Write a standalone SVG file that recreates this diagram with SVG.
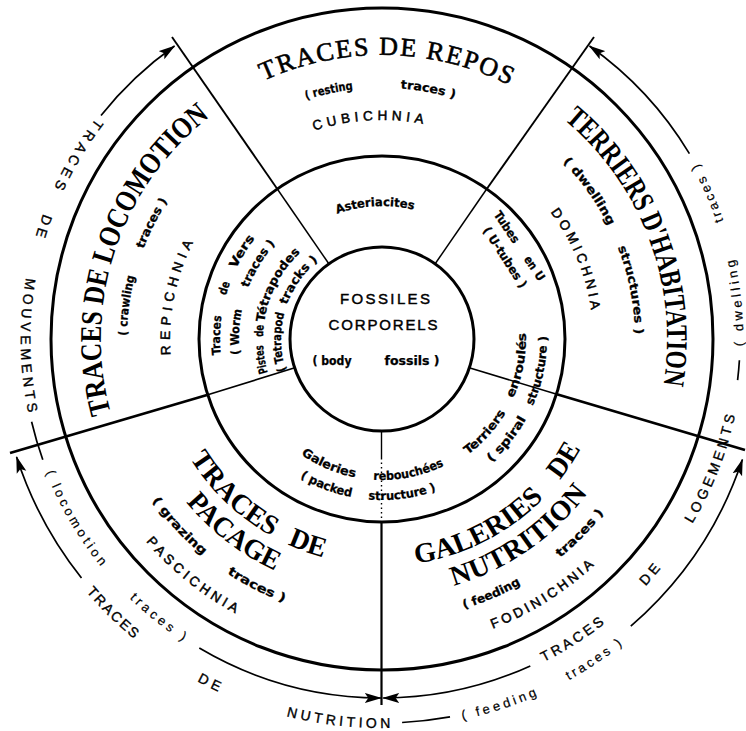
<svg xmlns="http://www.w3.org/2000/svg" width="746" height="731" viewBox="0 0 746 731">
<defs>
<style>
.ring{fill:none;stroke:#000;stroke-width:3}
.dv{stroke:#000;fill:none}
.ar{fill:none;stroke:#000;stroke-width:1.7;marker-end:url(#ah)}
.ln{fill:none;stroke:#000;stroke-width:1.7}
text{fill:#000;text-anchor:middle}
.big{font-family:"Liberation Serif","Times New Roman",serif;font-weight:bold;font-size:30px}
.big28{font-family:"Liberation Serif","Times New Roman",serif;font-weight:bold;font-size:28px}
.rep{font-family:"Liberation Serif","Times New Roman",serif;font-size:26px;stroke:#000;stroke-width:0.6}
.sm{font-family:"DejaVu Sans Condensed","DejaVu Sans",sans-serif;font-weight:bold;font-size:12px;stroke:#000;stroke-width:0.25}
.ich{font-family:"Liberation Sans",Arial,sans-serif;font-size:13.5px;letter-spacing:5px;stroke:#000;stroke-width:0.5}
.trk{font-family:"Liberation Sans",Arial,sans-serif;font-size:14px;letter-spacing:4px;stroke:#000;stroke-width:0.35}
.trl{font-family:"Liberation Sans",Arial,sans-serif;font-size:13px;letter-spacing:3.5px;stroke:#000;stroke-width:0.2}
.ctr{font-family:"Liberation Sans",Arial,sans-serif;font-size:15px;stroke:#000;stroke-width:0.45}
</style>
<marker id="ah" viewBox="0 0 17 11" refX="16" refY="5.5" markerWidth="17" markerHeight="11" markerUnits="userSpaceOnUse" orient="auto"><path d="M0,0.5 L17,5.5 L0,10.5 L3.5,5.5 z" fill="#000"/></marker>
<path id="p_repos" d="M138.6,192.7 A284,284 0 0 1 630.4,201.3"/>
<path id="p_rest" d="M188.3,179.3 A251,251 0 0 1 572.9,176.0"/>
<path id="p_cubi" d="M207.1,207.2 A219,219 0 0 1 542.2,189.6"/>
<path id="p_aster" d="M275.8,259.0 A133,133 0 0 1 479.3,248.3"/>
<path id="p_terr" d="M429.0,57.9 A285,285 0 0 1 601.9,520.3"/>
<path id="p_dwst" d="M458.1,97.7 A253,253 0 0 1 606.4,455.8"/>
<path id="p_domi" d="M447.9,138.6 A211,211 0 0 1 568.0,438.7"/>
<path id="p_terren" d="M418.1,478.4 A144,144 0 0 0 513.0,279.3"/>
<path id="p_spir" d="M427.5,497.6 A165,165 0 0 0 530.3,266.7"/>
<path id="p_gal" d="M267.5,421.3 A141,141 0 0 0 482.9,437.5"/>
<path id="p_pack" d="M249.3,430.2 A161,161 0 0 0 494.9,453.8"/>
<path id="p_tv" d="M247.1,428.7 A162,162 0 0 1 317.1,190.6"/>
<path id="p_wt" d="M260.7,414.8 A143,143 0 0 1 328.4,206.4"/>
<path id="p_pt" d="M284.5,407.3 A119,119 0 0 1 331.7,231.2"/>
<path id="p_tt" d="M297.8,394.8 A101,101 0 0 1 341.7,246.4"/>
<path id="p_loco" d="M171.5,525.2 A281,281 0 0 1 326.0,63.6"/>
<path id="p_crawl" d="M168.1,477.9 A255,255 0 0 1 282.4,104.3"/>
<path id="p_repi" d="M214.9,469.5 A212,212 0 0 1 282.5,151.8"/>
<path id="p_trde" d="M156.3,350.8 A226,226 0 0 0 432.8,559.2"/>
<path id="p_pac" d="M127.2,350.1 A255,255 0 0 0 437.2,588.0"/>
<path id="p_graz" d="M101.3,350.8 A281,281 0 0 0 442.3,613.4"/>
<path id="p_pasc" d="M73.1,375.3 A311,311 0 0 0 418.3,647.9"/>
<path id="p_gade" d="M323.3,558.3 A227,227 0 0 0 608.1,358.8"/>
<path id="p_nutr" d="M314.2,586.9 A257,257 0 0 0 637.9,362.7"/>
<path id="p_feed" d="M306.6,610.7 A282,282 0 0 0 662.7,366.0"/>
<path id="p_fodi" d="M314.9,641.7 A310,310 0 0 0 684.7,406.1"/>
<path id="p_in" d="M563,25.5 A362,362 0 0 0 201,652.5 A362,362 0 0 0 563,25.5"/>
<path id="p_out" d="M576.5,2.1 A389,389 0 0 0 187.5,675.9 A389,389 0 0 0 576.5,2.1"/>
</defs>
<rect x="0" y="0" width="746" height="731" fill="#fff"/>

<g id="rings">
<circle class="ring" cx="382" cy="339" r="183"/>
<circle class="ring" cx="382" cy="339" r="331"/>
</g>

<g id="connectors">
<line class="dv" x1="329" y1="264" x2="278" y2="190" stroke-width="1.5"/>
<line class="dv" x1="278" y1="190" x2="172" y2="37" stroke-width="1.9"/>
<line class="dv" x1="435" y1="264" x2="486" y2="190" stroke-width="1.5"/>
<line class="dv" x1="486" y1="190" x2="594" y2="37" stroke-width="1.9"/>
<line class="dv" x1="294" y1="368" x2="207" y2="395" stroke-width="1.6"/>
<line class="dv" x1="207" y1="395" x2="10" y2="453" stroke-width="2.8"/>
<line class="dv" x1="470" y1="368" x2="556" y2="394" stroke-width="1.6"/>
<line class="dv" x1="556" y1="394" x2="745" y2="450" stroke-width="2.8"/>
<line class="dv" x1="381.5" y1="430" x2="381.5" y2="458" stroke-width="1.4"/>
<line class="dv" x1="381.5" y1="458" x2="381.5" y2="522" stroke-width="1.4" stroke-dasharray="1.5 3"/>
<line class="dv" x1="381.5" y1="522" x2="381.5" y2="705" stroke-width="2.2"/>
<path class="ar" d="M101,115.5 A359,359 0 0 1 174.5,46"/>
<path class="ar" d="M689.4,153.6 A359,359 0 0 0 589.5,46"/>
<path class="ar" d="M199.3,648 A359,359 0 0 0 380.8,698"/>
<path class="ar" d="M530.3,665.9 A359,359 0 0 1 383.2,698"/>
<path class="ar" d="M81.5,578 A384,384 0 0 1 16.6,457"/>
<path class="ar" d="M630.8,626.2 A380,380 0 0 0 742.4,459.6"/>
<path class="ln" d="M31.6,421.8 A360,360 0 0 0 42.8,459.8"/>
<path class="ln" d="M737.6,380.1 A358,358 0 0 0 739.4,360.2"/>
<path class="ln" d="M402.1,722.5 A384,384 0 0 0 450,716.9"/>
</g>

<g id="fossiles-corporels">
<circle class="ring" cx="382" cy="339" r="92"/>
<text class="ctr" x="385" y="304" textLength="90" lengthAdjust="spacing">FOSSILES</text>
<text class="ctr" x="383" y="330" textLength="109" lengthAdjust="spacing">CORPORELS</text>
<text class="sm" x="332" y="365" textLength="39" lengthAdjust="spacingAndGlyphs">( body</text>
<text class="sm" x="412" y="365" textLength="55" lengthAdjust="spacingAndGlyphs">fossils )</text>
</g>

<g id="asteriacites">
<text class="sm"><textPath href="#p_aster" startOffset="50%" textLength="78" lengthAdjust="spacingAndGlyphs">Asteriacites</textPath></text>
</g>

<g id="tubes-en-u">
<g transform="translate(520,247) rotate(56)">
<text class="sm" x="-24" y="4" textLength="36" lengthAdjust="spacingAndGlyphs">Tubes</text>
<text class="sm" x="19" y="4" textLength="14" lengthAdjust="spacingAndGlyphs">en</text>
<text class="sm" x="35" y="4" textLength="9" lengthAdjust="spacingAndGlyphs">U</text>
</g>
<g transform="translate(505,257.5) rotate(57)">
<text class="sm" x="0" y="4" textLength="70" lengthAdjust="spacingAndGlyphs">( U-tubes )</text>
</g>
</g>

<g id="terriers-enroules">
<text class="sm"><textPath href="#p_terren" startOffset="83.7" textLength="57" lengthAdjust="spacingAndGlyphs">Terriers</textPath></text>
<text class="sm"><textPath href="#p_terren" startOffset="162.1" textLength="67" lengthAdjust="spacingAndGlyphs">enroulés</textPath></text>
<text class="sm"><textPath href="#p_spir" startOffset="101.4" textLength="56" lengthAdjust="spacingAndGlyphs">( spiral</textPath></text>
<text class="sm"><textPath href="#p_spir" startOffset="180" textLength="72" lengthAdjust="spacingAndGlyphs">structure )</textPath></text>
</g>

<g id="galeries-rebouchees">
<text class="sm"><textPath href="#p_gal" startOffset="77" textLength="59" lengthAdjust="spacingAndGlyphs">Galeries</textPath></text>
<text class="sm"><textPath href="#p_gal" startOffset="161.2" textLength="73" lengthAdjust="spacingAndGlyphs">rebouchées</textPath></text>
<text class="sm"><textPath href="#p_pack" startOffset="97.5" textLength="55" lengthAdjust="spacingAndGlyphs">( packed</textPath></text>
<text class="sm"><textPath href="#p_pack" startOffset="176.7" textLength="69" lengthAdjust="spacingAndGlyphs">structure )</textPath></text>
</g>

<g id="traces-de-vers">
<text class="sm"><textPath href="#p_tv" startOffset="98.7" textLength="39" lengthAdjust="spacingAndGlyphs">Traces</textPath></text>
<text class="sm"><textPath href="#p_tv" startOffset="145.6" textLength="13" lengthAdjust="spacingAndGlyphs">de</textPath></text>
<text class="sm"><textPath href="#p_tv" startOffset="185.5" textLength="36" lengthAdjust="spacingAndGlyphs">Vers</textPath></text>
<text class="sm"><textPath href="#p_wt" startOffset="86.9" textLength="45" lengthAdjust="spacingAndGlyphs">( Worm</textPath></text>
<text class="sm"><textPath href="#p_wt" startOffset="158" textLength="52" lengthAdjust="spacingAndGlyphs">traces )</textPath></text>
<text class="sm"><textPath href="#p_pt" startOffset="52.5" textLength="28" lengthAdjust="spacingAndGlyphs">Pistes</textPath></text>
<text class="sm"><textPath href="#p_pt" startOffset="80.6" textLength="12" lengthAdjust="spacingAndGlyphs">de</textPath></text>
<text class="sm"><textPath href="#p_pt" startOffset="129.6" textLength="80" lengthAdjust="spacingAndGlyphs">Tétrapodes</textPath></text>
<text class="sm"><textPath href="#p_tt" startOffset="56.2" textLength="58" lengthAdjust="spacingAndGlyphs">( Tetrapod</textPath></text>
<text class="sm"><textPath href="#p_tt" startOffset="121.1" textLength="55" lengthAdjust="spacingAndGlyphs">tracks )</textPath></text>
</g>

<g id="traces-de-repos">
<text class="rep"><textPath href="#p_repos" startOffset="50%" textLength="254" lengthAdjust="spacing">TRACES DE REPOS</textPath></text>
<text class="sm"><textPath href="#p_rest" startOffset="168.2" textLength="48" lengthAdjust="spacingAndGlyphs">( resting</textPath></text>
<text class="sm"><textPath href="#p_rest" startOffset="267.2" textLength="55" lengthAdjust="spacingAndGlyphs">traces )</textPath></text>
<text class="ich"><textPath href="#p_cubi" startOffset="50%" textLength="115" lengthAdjust="spacing">CUBICHNIA</textPath></text>
</g>

<g id="terriers-habitation">
<text class="big"><textPath href="#p_terr" startOffset="50%" textLength="296" lengthAdjust="spacingAndGlyphs">TERRIERS D'HABITATION</textPath></text>
<text class="sm"><textPath href="#p_dwst" startOffset="163.4" textLength="79" lengthAdjust="spacingAndGlyphs">( dwelling</textPath></text>
<text class="sm"><textPath href="#p_dwst" startOffset="270.7" textLength="89" lengthAdjust="spacingAndGlyphs">structures )</textPath></text>
<text class="ich"><textPath href="#p_domi" startOffset="50%" textLength="112" lengthAdjust="spacing">DOMICHNIA</textPath></text>
</g>

<g id="traces-locomotion">
<text class="big"><textPath href="#p_loco" startOffset="50%" textLength="331" lengthAdjust="spacingAndGlyphs">TRACES DE LOCOMOTION</textPath></text>
<text class="sm"><textPath href="#p_crawl" startOffset="180.2" textLength="60" lengthAdjust="spacingAndGlyphs">( crawling</textPath></text>
<text class="sm"><textPath href="#p_crawl" startOffset="265.7" textLength="54" lengthAdjust="spacingAndGlyphs">traces )</textPath></text>
<text class="ich"><textPath href="#p_repi" startOffset="50%" textLength="121" lengthAdjust="spacing">REPICHNIA</textPath></text>
</g>

<g id="traces-pacage">
<text class="big28"><textPath href="#p_trde" startOffset="170.8" textLength="114" lengthAdjust="spacingAndGlyphs">TRACES</textPath></text>
<text class="big28"><textPath href="#p_trde" startOffset="264.7" textLength="38" lengthAdjust="spacingAndGlyphs">DE</textPath></text>
<text class="big28"><textPath href="#p_pac" startOffset="50%" textLength="113" lengthAdjust="spacingAndGlyphs">PACAGE</textPath></text>
<text class="sm"><textPath href="#p_graz" startOffset="197.6" textLength="75" lengthAdjust="spacingAndGlyphs">( grazing</textPath></text>
<text class="sm"><textPath href="#p_graz" startOffset="297.2" textLength="64" lengthAdjust="spacingAndGlyphs">traces )</textPath></text>
<text class="ich"><textPath href="#p_pasc" startOffset="50%" textLength="120" lengthAdjust="spacing">PASCICHNIA</textPath></text>
</g>

<g id="galeries-nutrition">
<text class="big28"><textPath href="#p_gade" startOffset="166.4" textLength="146" lengthAdjust="spacingAndGlyphs">GALERIES</textPath></text>
<text class="big28"><textPath href="#p_gade" startOffset="282.5" textLength="38" lengthAdjust="spacingAndGlyphs">DE</textPath></text>
<text class="big28"><textPath href="#p_nutr" startOffset="50%" textLength="166" lengthAdjust="spacing">NUTRITION</textPath></text>
<text class="sm"><textPath href="#p_feed" startOffset="190.5" textLength="62" lengthAdjust="spacingAndGlyphs">( feeding</textPath></text>
<text class="sm"><textPath href="#p_feed" startOffset="300.2" textLength="63" lengthAdjust="spacingAndGlyphs">traces )</textPath></text>
<text class="ich"><textPath href="#p_fodi" startOffset="50%" textLength="125" lengthAdjust="spacing">FODINICHNIA</textPath></text>
</g>

<g id="outer-labels">
<text class="trk"><textPath href="#p_in" startOffset="561.7" textLength="85" lengthAdjust="spacing">TRACES</textPath></text>
<text class="trk"><textPath href="#p_in" startOffset="642.5">DE</textPath></text>
<text class="trk"><textPath href="#p_in" startOffset="765.1" textLength="140" lengthAdjust="spacing">MOUVEMENTS</textPath></text>
<text class="trl"><textPath href="#p_in" startOffset="949.3" textLength="113" lengthAdjust="spacing">( locomotion</textPath></text>
<text class="trl"><textPath href="#p_in" startOffset="1081" textLength="72" lengthAdjust="spacing">traces )</textPath></text>
<text class="trk"><textPath href="#p_in" startOffset="1530.2" textLength="76" lengthAdjust="spacing">TRACES</textPath></text>
<text class="trk"><textPath href="#p_in" startOffset="1633.2">DE</textPath></text>
<text class="trk"><textPath href="#p_in" startOffset="1758.3" textLength="121" lengthAdjust="spacing">LOGEMENTS</textPath></text>
<text class="trl"><textPath href="#p_in" startOffset="1929.9" textLength="91" lengthAdjust="spacing">( dwelling</textPath></text>
<text class="trl"><textPath href="#p_in" startOffset="2044.9" textLength="66" lengthAdjust="spacing">traces )</textPath></text>
<text class="trk"><textPath href="#p_out" startOffset="1125" textLength="71" lengthAdjust="spacing">TRACES</textPath></text>
<text class="trk"><textPath href="#p_out" startOffset="1246.5">DE</textPath></text>
<text class="trk"><textPath href="#p_out" startOffset="1383.3" textLength="109" lengthAdjust="spacing">NUTRITION</textPath></text>
<text class="trl"><textPath href="#p_out" startOffset="1547.3" textLength="82" lengthAdjust="spacing">( feeding</textPath></text>
<text class="trl"><textPath href="#p_out" startOffset="1653.9" textLength="68" lengthAdjust="spacing">traces )</textPath></text>
</g>
</svg>
